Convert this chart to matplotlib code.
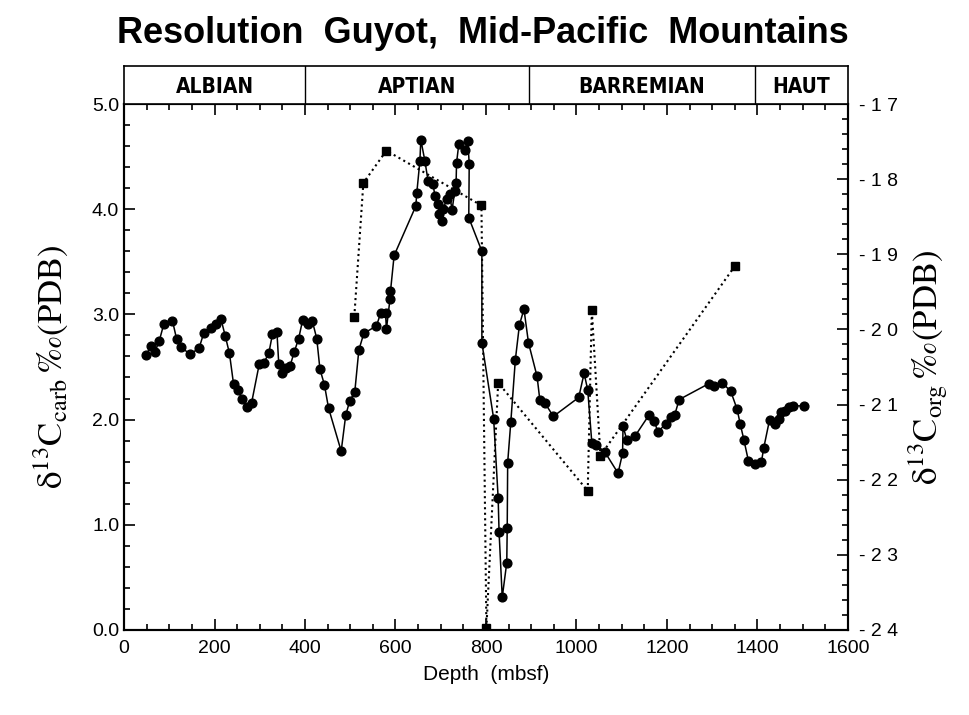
import numpy as np
import matplotlib.pyplot as plt
from matplotlib.ticker import MultipleLocator

plt.rcParams['font.family'] = ['Liberation Sans', 'DejaVu Sans']
plt.rcParams['mathtext.fontset'] = 'stix'

# carbonate d13C (left axis)
carb_depth = [49, 59, 68, 78, 88, 107, 116, 126, 146, 166, 176, 193, 203, 214,
              224, 233, 242, 251, 261, 271, 282, 299, 309, 320, 328, 338, 342,
              349, 358, 367, 376, 386, 395, 406, 416, 426, 433, 443, 452, 480,
              490, 499, 510, 519, 530, 558, 567, 578, 580, 588, 589, 597, 645,
              647, 654, 656, 665, 672, 683, 687, 695, 696, 703, 706, 713, 720,
              725, 731, 734, 735, 740, 753, 760, 763, 762, 791, 791, 817, 827,
              829, 836, 846, 847, 848, 855, 865, 874, 884, 894, 913, 919, 930,
              949, 1005, 1017, 1025, 1034, 1044, 1063, 1092, 1102, 1103, 1111,
              1129, 1160, 1172, 1180, 1197, 1209, 1217, 1227, 1292, 1304, 1322,
              1341, 1355, 1362, 1370, 1380, 1394, 1409, 1414, 1427, 1438, 1447,
              1453, 1460, 1469, 1479, 1503]
carb_d13c = [2.61, 2.70, 2.64, 2.75, 2.91, 2.94, 2.77, 2.69, 2.62, 2.68, 2.82,
             2.87, 2.91, 2.96, 2.79, 2.63, 2.34, 2.28, 2.20, 2.12, 2.16, 2.53,
             2.54, 2.63, 2.81, 2.83, 2.53, 2.44, 2.49, 2.51, 2.64, 2.77, 2.95,
             2.91, 2.94, 2.77, 2.48, 2.33, 2.11, 1.70, 2.04, 2.18, 2.26, 2.66,
             2.82, 2.89, 3.01, 3.01, 2.86, 3.15, 3.22, 3.56, 4.03, 4.15, 4.46,
             4.66, 4.46, 4.27, 4.24, 4.13, 4.05, 3.95, 3.89, 4.00, 4.10, 4.14,
             3.99, 4.17, 4.25, 4.44, 4.62, 4.56, 4.65, 4.43, 3.92, 3.60, 2.73,
             2.01, 1.25, 0.93, 0.31, 0.64, 0.97, 1.59, 1.98, 2.57, 2.90, 3.05,
             2.73, 2.41, 2.19, 2.16, 2.03, 2.21, 2.44, 2.28, 1.78, 1.76, 1.69,
             1.49, 1.68, 1.94, 1.81, 1.84, 2.04, 1.99, 1.88, 1.96, 2.02, 2.04,
             2.19, 2.34, 2.32, 2.35, 2.27, 2.10, 1.96, 1.81, 1.61, 1.58, 1.60,
             1.73, 2.00, 1.96, 2.01, 2.07, 2.08, 2.12, 2.13, 2.13]

# organic d13C (right axis)
org_depth = [509, 529, 580, 790, 801, 827, 1025, 1034, 1053, 1351]
org_d13c = [-19.83, -18.05, -17.62, -18.35, -23.98, -20.71, -22.15, -19.74,
            -21.68, -19.15]

stages = ['ALBIAN', 'APTIAN', 'BARREMIAN', 'HAUT']
stage_bounds = [0, 400, 895, 1395, 1600]

fig = plt.figure(figsize=(9.69, 7.15), dpi=100)
ax = fig.add_axes([0.128, 0.119, 0.747, 0.7355])
ax2 = ax.twinx()
band = fig.add_axes([0.128, 0.8545, 0.747, 0.0532])

ax.plot(carb_depth, carb_d13c, '-', color='black', lw=1.1,
        marker='o', ms=6.3, mfc='black', mec='black', zorder=3)
ax2.plot(org_depth, org_d13c, ':', color='black', lw=1.5,
         marker='s', ms=5.5, mfc='black', mec='black')

ax.set_xlim(0, 1600)
ax.set_ylim(0, 5)
ax2.set_ylim(-24, -17)

ax.xaxis.set_major_locator(MultipleLocator(200))
ax.xaxis.set_minor_locator(MultipleLocator(50))
ax.yaxis.set_minor_locator(MultipleLocator(0.2))
ax.set_yticks(np.arange(0, 5.1, 1))
ax.set_yticklabels(['%.1f' % v for v in np.arange(0, 5.1, 1)])
ax2.yaxis.set_minor_locator(MultipleLocator(0.2))
r_ticks = np.arange(-24, -16, 1)
ax2.set_yticks(r_ticks)
ax2.set_yticklabels(['- ' + ' '.join(str(abs(t))) for t in r_ticks])

ax.tick_params(which='both', direction='in', top=True, right=False,
               labelsize=14, width=1.2)
ax.tick_params(which='major', length=8)
ax.tick_params(which='minor', length=4)
ax.tick_params(axis='x', pad=7)
ax2.tick_params(which='both', direction='in', labelsize=14, width=1.2, pad=8)
ax2.tick_params(which='major', length=8)
ax2.tick_params(which='minor', length=4)
for a in (ax, ax2):
    for s in a.spines.values():
        s.set_linewidth(1.5)

ax.set_xlabel('Depth  (mbsf)', fontsize=15, labelpad=6)
ax.set_ylabel(r'$\mathrm{δ}^{13}\mathrm{C}_{\mathrm{carb}}\,\mathit{‰}\mathrm{(PDB)}$',
              fontsize=25, labelpad=16)
ax2.set_ylabel(r'$\mathrm{δ}^{13}\mathrm{C}_{\mathrm{org}}\,\mathit{‰}\mathrm{(PDB)}$',
               fontsize=25, labelpad=6)

# stage band above the plot
band.set_xlim(0, 1600)
band.set_ylim(0, 1)
band.set_xticks([])
band.set_yticks([])
for s in band.spines.values():
    s.set_linewidth(1.2)
for i, name in enumerate(stages):
    x0, x1 = stage_bounds[i], stage_bounds[i + 1]
    if i > 0:
        band.axvline(x0, color='black', lw=1.0)
    band.text((x0 + x1) / 2, 0.45, name, ha='center', va='center',
              fontsize=15, fontweight='bold', family='DejaVu Sans',
              fontstretch='condensed')

fig.suptitle('Resolution  Guyot,  Mid-Pacific  Mountains', fontsize=26,
             fontweight='bold', x=0.498, y=0.978)

fig.savefig('out.png', dpi=100)
